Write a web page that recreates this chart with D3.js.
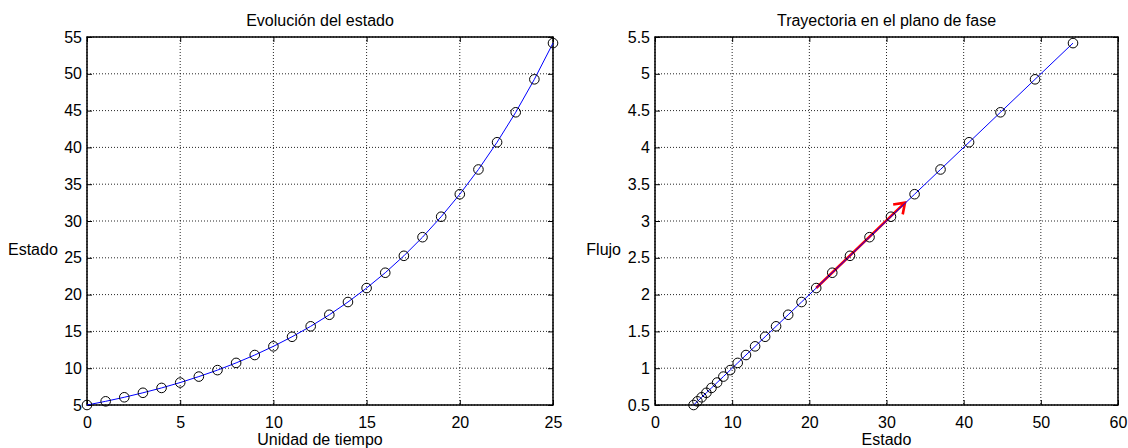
<!DOCTYPE html>
<html><head><meta charset="utf-8">
<script src="https://cdn.jsdelivr.net/npm/d3@7"></script>
<style>
body{margin:0;background:#fff}
svg text{font-family:"Liberation Sans",Arial,Helvetica,sans-serif;font-size:16px;fill:#000}
</style>
</head><body>
<svg id="c" width="1128" height="448"></svg>
<script>
// ---- data ----
const tiempo = [0,1,2,3,4,5,6,7,8,9,10,11,12,13,14,15,16,17,18,19,20,21,22,23,24,25];
const estado = [5,5.5,6.05,6.66,7.32,8.05,8.86,9.74,10.72,11.79,12.97,14.27,15.69,17.26,18.99,20.89,22.97,25.27,27.8,30.58,33.64,37.0,40.7,44.77,49.25,54.17];
const flujo  = [0.5,0.55,0.605,0.666,0.732,0.805,0.886,0.974,1.072,1.179,1.297,1.427,1.569,1.726,1.899,2.089,2.297,2.527,2.78,3.058,3.364,3.7,4.07,4.477,4.925,5.417];
const xTicksLeft  = [0,5,10,15,20,25];
const yTicksLeft  = [5,10,15,20,25,30,35,40,45,50,55];
const xTicksRight = [0,10,20,30,40,50,60];
const yTicksRight = [0.5,1,1.5,2,2.5,3,3.5,4,4.5,5,5.5];
const arrowStart = [20.89, 2.089];
const arrowEnd   = [32.4, 3.25];
const titles = ["Evolución del estado", "Trayectoria en el plano de fase"];
const xLabels = ["Unidad de tiempo", "Estado"];
const yLabels = ["Estado", "Flujo"];

// ---- layout ----
const svg = d3.select("#c");
svg.append("rect").attr("width",1128).attr("height",448).attr("fill","#fff");
const plotTop = 37, plotBottom = 405;

function panel(opts){
  const g = svg.append("g");
  const x = d3.scaleLinear().domain(opts.xDomain).range([opts.left, opts.right]);
  const y = d3.scaleLinear().domain(opts.yDomain).range([plotBottom, plotTop]);
  // grid
  g.append("g").selectAll("line").data(opts.xTicks).join("line")
    .attr("x1",d=>x(d)).attr("x2",d=>x(d)).attr("y1",plotTop).attr("y2",plotBottom)
    .attr("stroke","#000").attr("stroke-width",1).attr("stroke-dasharray","1,2").attr("opacity",0.85);
  g.append("g").selectAll("line").data(opts.yTicks).join("line")
    .attr("y1",d=>y(d)).attr("y2",d=>y(d)).attr("x1",opts.left).attr("x2",opts.right)
    .attr("stroke","#000").attr("stroke-width",1).attr("stroke-dasharray","1,2").attr("opacity",0.85);
  // axes with inward ticks (d3 axes)
  const tl = 5;
  const ax = d3.axisBottom(x).tickValues(opts.xTicks).tickSizeInner(-tl).tickSizeOuter(0).tickPadding(12).tickFormat(d3.format("~g"));
  const axT = d3.axisTop(x).tickValues(opts.xTicks).tickSizeInner(-tl).tickSizeOuter(0).tickFormat("");
  const ay = d3.axisLeft(y).tickValues(opts.yTicks).tickSizeInner(-tl).tickSizeOuter(0).tickPadding(5).tickFormat(d3.format("~g"));
  const ayR = d3.axisRight(y).tickValues(opts.yTicks).tickSizeInner(-tl).tickSizeOuter(0).tickFormat("");
  [[ax,`translate(0,${plotBottom})`],[axT,`translate(0,${plotTop})`],[ay,`translate(${opts.left},0)`],[ayR,`translate(${opts.right},0)`]].forEach(([a,t])=>{
    const s = g.append("g").attr("transform",t).call(a);
    s.select(".domain").remove();
    s.selectAll("line").attr("stroke","#000");
    s.attr("font-size",null).attr("font-family",null);
  });
  g.selectAll(".tick text").attr("fill","#000");
  // box
  g.append("rect").attr("x",opts.left).attr("y",plotTop).attr("width",opts.right-opts.left).attr("height",plotBottom-plotTop)
    .attr("fill","none").attr("stroke","#000").attr("stroke-width",1.5);
  // title & labels
  g.append("text").attr("x",(opts.left+opts.right)/2).attr("y",26).attr("text-anchor","middle").text(opts.title);
  g.append("text").attr("x",(opts.left+opts.right)/2).attr("y",445).attr("text-anchor","middle").text(opts.xLabel);
  g.append("text").attr("x",opts.yLabelX).attr("y",255).attr("text-anchor",opts.yLabelAnchor).text(opts.yLabel);
  return {g,x,y};
}

// left panel
const L = panel({left:87,right:553,xDomain:[0,25],yDomain:[5,55],xTicks:xTicksLeft,yTicks:yTicksLeft,
  title:titles[0],xLabel:xLabels[0],yLabel:yLabels[0],yLabelX:8,yLabelAnchor:"start"});
const lineL = d3.line().x((d,i)=>L.x(tiempo[i])).y(d=>L.y(d));
L.g.append("path").datum(estado).attr("d",lineL).attr("fill","none").attr("stroke","#0000ff").attr("stroke-width",1);
L.g.append("g").selectAll("circle").data(estado).join("circle")
  .attr("cx",(d,i)=>L.x(tiempo[i])).attr("cy",d=>L.y(d)).attr("r",4.8)
  .attr("fill","none").attr("stroke","#000").attr("stroke-width",1);

// right panel
const R = panel({left:655,right:1118,xDomain:[0,60],yDomain:[0.5,5.5],xTicks:xTicksRight,yTicks:yTicksRight,
  title:titles[1],xLabel:xLabels[1],yLabel:yLabels[1],yLabelX:621,yLabelAnchor:"end"});
// red arrow (quiver)
const ax0 = R.x(arrowStart[0]), ay0 = R.y(arrowStart[1]);
const ax1 = R.x(arrowEnd[0]), ay1 = R.y(arrowEnd[1]);
const ang = Math.atan2(ay0-ay1, ax0-ax1), hl = 12, ha = 35*Math.PI/180;
const arrow = d3.path();
arrow.moveTo(ax0,ay0); arrow.lineTo(ax1,ay1);
arrow.moveTo(ax1+hl*Math.cos(ang+ha), ay1+hl*Math.sin(ang+ha)); arrow.lineTo(ax1,ay1);
arrow.lineTo(ax1+hl*Math.cos(ang-ha), ay1+hl*Math.sin(ang-ha));
R.g.append("path").attr("d",arrow.toString()).attr("fill","none").attr("stroke","#ff0000").attr("stroke-width",2.6).attr("stroke-linejoin","miter");
const lineR = d3.line().x(d=>R.x(d[0])).y(d=>R.y(d[1]));
const pts = estado.map((e,i)=>[e,flujo[i]]);
R.g.append("path").datum(pts).attr("d",lineR).attr("fill","none").attr("stroke","#0000ff").attr("stroke-width",1);
R.g.append("g").selectAll("circle").data(pts).join("circle")
  .attr("cx",d=>R.x(d[0])).attr("cy",d=>R.y(d[1])).attr("r",4.8)
  .attr("fill","none").attr("stroke","#000").attr("stroke-width",1);
</script>
</body></html>
